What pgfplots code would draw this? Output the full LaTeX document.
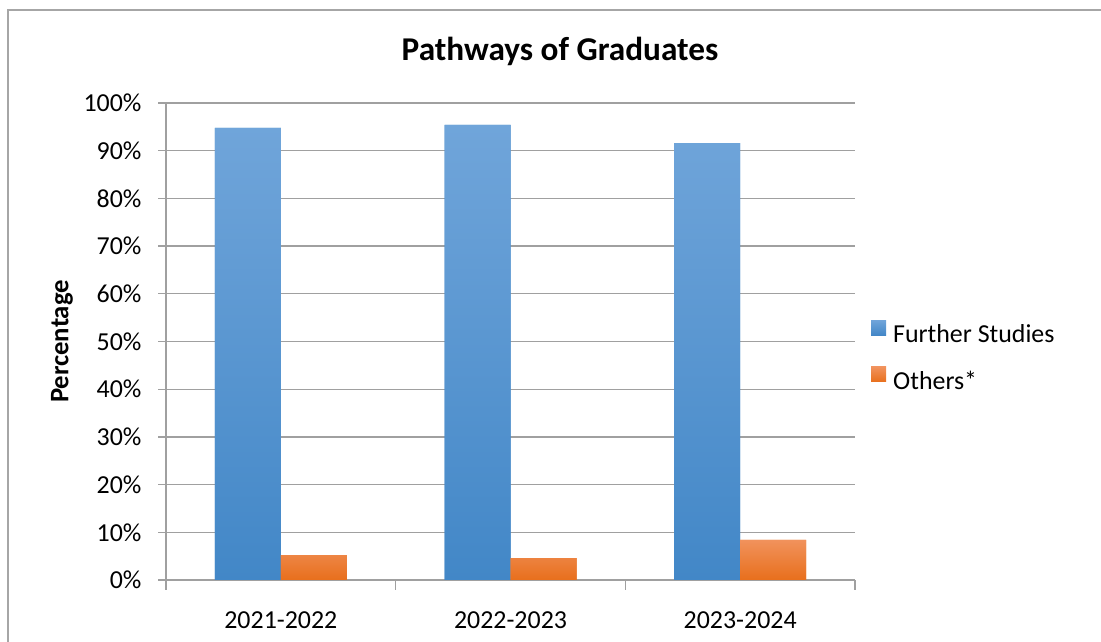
\documentclass[border=0pt]{standalone}
\usepackage{pgfplots}
\pgfplotsset{compat=1.18}
\usepackage{fontspec}
\setmainfont{Carlito}
\definecolor{gridgray}{HTML}{A0A0A0}
\definecolor{frame}{HTML}{A6A6A6}
\definecolor{blueT}{HTML}{70A5DA}
\definecolor{blueB}{HTML}{4287C7}
\definecolor{orT}{HTML}{F1925C}
\definecolor{orB}{HTML}{E86F1C}
\begin{document}
\begin{tikzpicture}[x=1bp,y=1bp]
\path[use as bounding box] (0,0) rectangle (1101,642);
\draw[frame, line width=1.5bp] (8,-2) -- (8,632) -- (1103,632);
\node[font=\bfseries\fontsize{33.4}{40}\selectfont, anchor=base] at (560,581) {Pathways of Graduates};
\begin{axis}[
  at={(166bp,62bp)}, anchor=south west,
  scale only axis, width=689bp, height=477bp,
  xmin=-0.5, xmax=2.5, ymin=0, ymax=100,
  axis lines=left, axis line style={-, gridgray, line width=1.3bp},
  ybar=0pt, bar width=66bp,
  xtick={0,1,2}, xticklabels={2021-2022,2022-2023,2023-2024},
  minor xtick={-0.5,0.5,1.5,2.5},
  major x tick style={draw=none},
  minor x tick style={gridgray, line width=1.3bp},
  minor tick length=10bp,
  ytick={0,10,...,100},
  yticklabels={0\%,10\%,20\%,30\%,40\%,50\%,60\%,70\%,80\%,90\%,100\%},
  major tick length=8bp, tick align=outside,
  y tick style={gridgray, line width=1.3bp},
  ymajorgrids, grid style={gridgray, line width=1.3bp},
  tick label style={font=\fontsize{26}{31}\selectfont, black},
  /pgf/number format/assume math mode=true,
  xticklabel style={yshift=-20bp},
  yticklabel style={xshift=-13bp},
  ylabel={Percentage},
  ylabel style={font=\bfseries\fontsize{26.8}{32}\selectfont, at={(axis description cs:-0.151,0.5)}, anchor=center},
  legend style={draw=none, fill=none, at={(axis description cs:1.0232,0.545)}, anchor=north west,
    font=\fontsize{26}{31}\selectfont, row sep=21bp, column sep=5bp, inner sep=0pt},
  legend cell align=left,
  legend image code/.code={\fill[#1] (0bp,-1bp) rectangle (15bp,14bp);},
]
\addplot[draw=none, top color=blueT, bottom color=blueB, fill=blueB] coordinates {(0,94.8) (1,95.4) (2,91.6)};
\addplot[draw=none, top color=orT, bottom color=orB, fill=orB] coordinates {(0,5.2) (1,4.6) (2,8.4)};
\legend{Further Studies, Others*}
\end{axis}
\end{tikzpicture}
\end{document}
